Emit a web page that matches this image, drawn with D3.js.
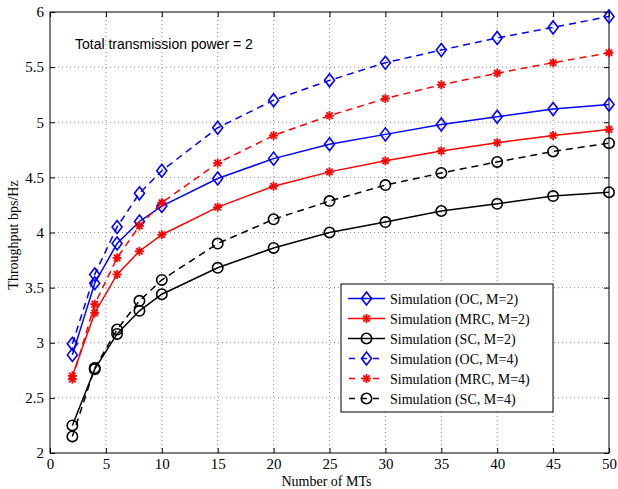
<!DOCTYPE html>
<html><head><meta charset="utf-8">
<script src="https://cdn.jsdelivr.net/npm/d3@7"></script>
<style>body{margin:0;background:#fff}svg{display:block}</style>
</head><body>
<svg id="c" width="618" height="489"></svg>
<script>
const xVals = [2,4,6,8,10,15,20,25,30,35,40,45,50];
const ocM2  = [2.89,3.54,3.90,4.10,4.24,4.49,4.67,4.80,4.89,4.98,5.05,5.12,5.16];
const mrcM2 = [2.70,3.27,3.62,3.83,3.98,4.23,4.42,4.55,4.65,4.74,4.815,4.88,4.935];
const scM2  = [2.25,2.76,3.08,3.29,3.44,3.68,3.86,4.00,4.095,4.195,4.26,4.33,4.365];
const ocM4  = [2.99,3.62,4.05,4.355,4.56,4.95,5.20,5.38,5.54,5.655,5.765,5.86,5.96];
const mrcM4 = [2.67,3.35,3.77,4.06,4.27,4.63,4.88,5.06,5.215,5.34,5.445,5.54,5.63];
const scM4  = [2.15,2.77,3.12,3.38,3.57,3.90,4.12,4.285,4.43,4.54,4.64,4.735,4.81];
const xTicks = [0,5,10,15,20,25,30,35,40,45,50];
const yTicks = [2,2.5,3,3.5,4,4.5,5,5.5,6];
const seriesNames = ["Simulation (OC, M=2)","Simulation (MRC, M=2)","Simulation (SC, M=2)",
                     "Simulation (OC, M=4)","Simulation (MRC, M=4)","Simulation (SC, M=4)"];

const series = [
  {name:seriesNames[0], vals:ocM2,  color:"#0000ff", marker:"diamond", dash:null},
  {name:seriesNames[1], vals:mrcM2, color:"#ff0000", marker:"star", dash:null},
  {name:seriesNames[2], vals:scM2,  color:"#000000", marker:"circle", dash:null},
  {name:seriesNames[3], vals:ocM4,  color:"#0000ff", marker:"diamond", dash:"7,5"},
  {name:seriesNames[4], vals:mrcM4, color:"#ff0000", marker:"star", dash:"7,5"},
  {name:seriesNames[5], vals:scM4,  color:"#000000", marker:"circle", dash:"7,5"}
];

const L=50, R=609, T=12, B=453;
const svg = d3.select("#c");
const x = d3.scaleLinear().domain([0,50]).range([L,R]);
const y = d3.scaleLinear().domain([2,6]).range([B,T]);
const serif = "'Liberation Serif','Times New Roman',serif";

// grid
const g = svg.append("g");
g.selectAll(".vg").data(xTicks.slice(1,-1)).enter().append("line")
  .attr("x1",d=>x(d)).attr("x2",d=>x(d)).attr("y1",T).attr("y2",B)
  .attr("stroke","#888").attr("stroke-width",1).attr("stroke-dasharray","1,3");
g.selectAll(".hg").data(yTicks.slice(1,-1)).enter().append("line")
  .attr("y1",d=>y(d)).attr("y2",d=>y(d)).attr("x1",L).attr("x2",R)
  .attr("stroke","#888").attr("stroke-width",1).attr("stroke-dasharray","1,3");

// axes
const xAxis = svg.append("g").attr("transform",`translate(0,${B})`)
  .call(d3.axisBottom(x).tickValues(xTicks).tickSize(-5).tickPadding(5).tickFormat(d3.format("d")));
const xAxisTop = svg.append("g").attr("transform",`translate(0,${T})`)
  .call(d3.axisTop(x).tickValues(xTicks).tickSize(-5).tickFormat(""));
const yAxis = svg.append("g").attr("transform",`translate(${L},0)`)
  .call(d3.axisLeft(y).tickValues(yTicks).tickSize(-5).tickPadding(6).tickFormat(d=>String(d)));
const yAxisR = svg.append("g").attr("transform",`translate(${R},0)`)
  .call(d3.axisRight(y).tickValues(yTicks).tickSize(-5).tickFormat(""));
[xAxis,xAxisTop,yAxis,yAxisR].forEach(a=>{
  a.select(".domain").remove();
  a.selectAll("line").attr("stroke","#000");
  a.selectAll("text").attr("font-family",serif).attr("font-size",15).attr("fill","#000");
});
svg.append("rect").attr("x",L).attr("y",T).attr("width",R-L).attr("height",B-T)
  .attr("fill","none").attr("stroke","#000").attr("stroke-width",1);

// markers
function drawMarker(sel, type, color){
  if(type==="diamond"){
    sel.append("path").attr("d","M0,-6.5L5,0L0,6.5L-5,0Z")
      .attr("fill","none").attr("stroke",color).attr("stroke-width",1.6);
  } else if(type==="circle"){
    sel.append("circle").attr("r",5.2).attr("fill","none").attr("stroke",color).attr("stroke-width",1.6);
  } else {
    const r=4.5;
    [0,45,90,135].forEach(a=>{
      const rad=a*Math.PI/180;
      sel.append("line").attr("x1",-r*Math.cos(rad)).attr("y1",-r*Math.sin(rad))
        .attr("x2",r*Math.cos(rad)).attr("y2",r*Math.sin(rad))
        .attr("stroke",color).attr("stroke-width",1.8);
    });
  }
}

const line = d3.line().x(d=>x(d[0])).y(d=>y(d[1]));
series.forEach(s=>{
  const pts = xVals.map((xv,i)=>[xv,s.vals[i]]);
  svg.append("path").attr("d",line(pts)).attr("fill","none").attr("stroke",s.color)
    .attr("stroke-width",1.5).attr("stroke-dasharray",s.dash);
  pts.forEach(p=>{
    const m = svg.append("g").attr("transform",`translate(${x(p[0])},${y(p[1])})`);
    drawMarker(m,s.marker,s.color);
  });
});

// annotation
svg.append("text").attr("x",75).attr("y",49).attr("font-family","'Liberation Sans',Arial,sans-serif")
  .attr("font-size",14).text("Total transmission power = 2");

// labels
svg.append("text").attr("x",(L+R)/2-3).attr("y",486).attr("text-anchor","middle")
  .attr("font-family",serif).attr("font-size",14).text("Number of MTs");
svg.append("text").attr("transform","translate(18,235) rotate(-90)").attr("text-anchor","middle")
  .attr("font-family",serif).attr("font-size",14).text("Throughput bps/Hz");

// legend
const lg = svg.append("g");
lg.append("rect").attr("x",341).attr("y",284).attr("width",212).attr("height",128)
  .attr("fill","#fff").attr("stroke","#000").attr("stroke-width",1);
series.forEach((s,i)=>{
  const yy = 298.5 + i*20;
  lg.append("line").attr("x1",348).attr("x2",385).attr("y1",yy).attr("y2",yy)
    .attr("stroke",s.color).attr("stroke-width",1.5).attr("stroke-dasharray",s.dash?"6,6":null)
    .attr("stroke-dashoffset",s.dash?"-1":null);
  const m = lg.append("g").attr("transform",`translate(366.5,${yy})`);
  drawMarker(m,s.marker,s.color);
  lg.append("text").attr("x",390).attr("y",yy+5).attr("font-family",serif).attr("font-size",14)
    .text(s.name);
});
</script>
</body></html>
